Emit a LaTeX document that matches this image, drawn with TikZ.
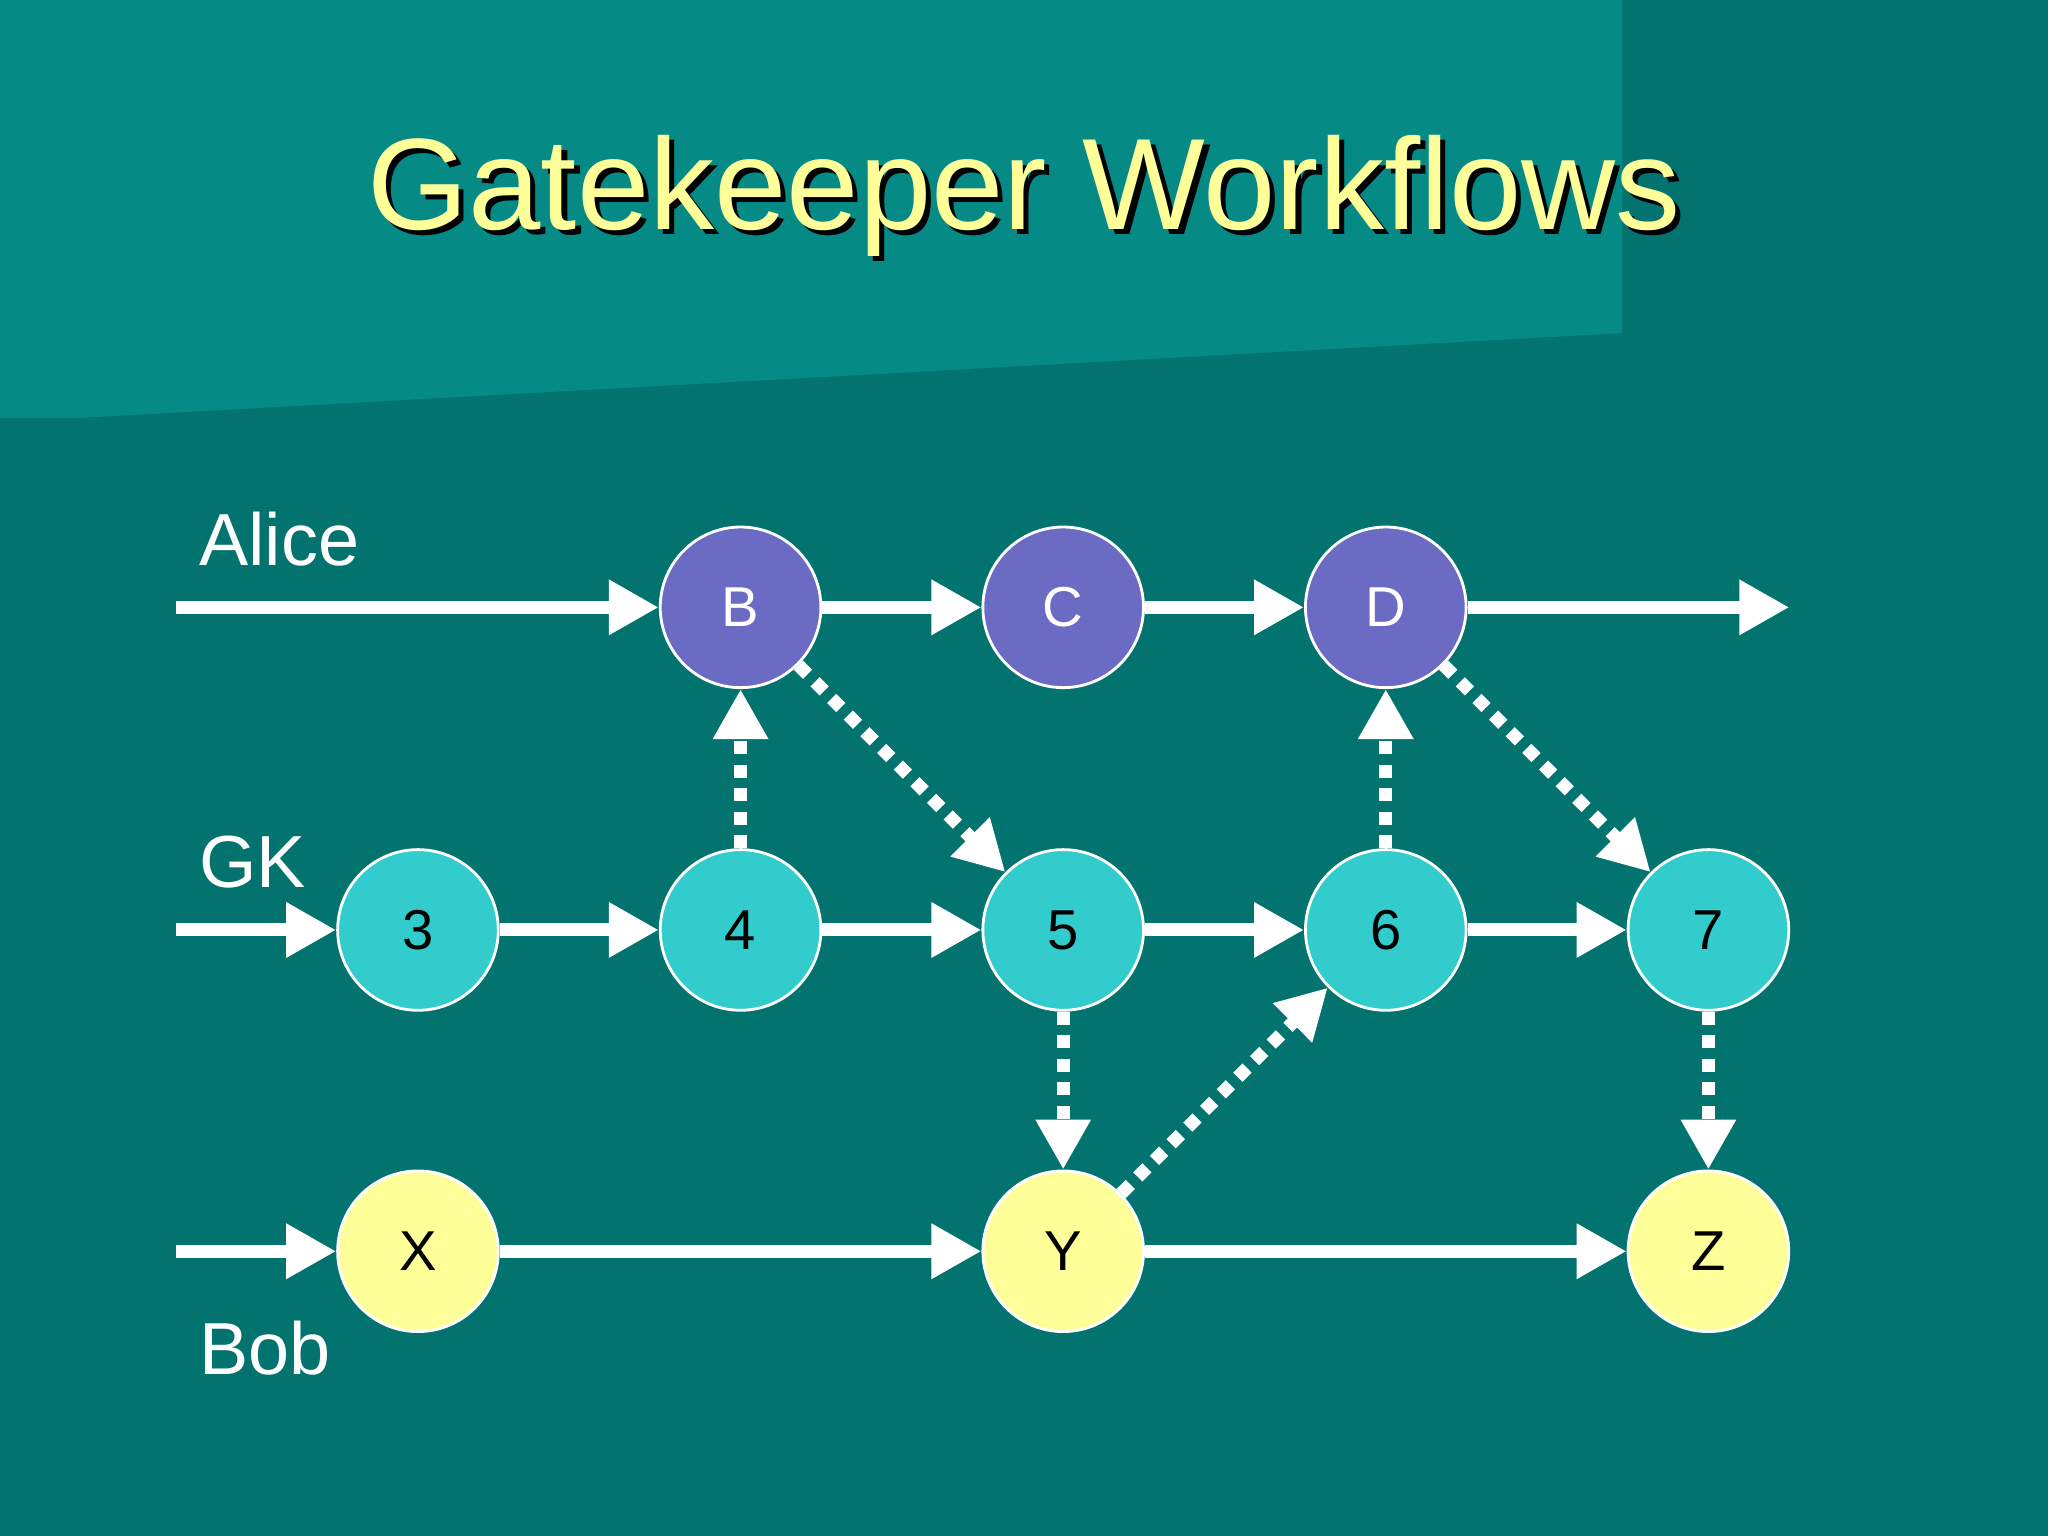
\documentclass[tikz,border=0pt]{standalone}
\usepackage{fontspec}
\setmainfont{Liberation Sans}
\usetikzlibrary{arrows.meta}
\definecolor{bg}{HTML}{037370}
\definecolor{bgl}{HTML}{058A85}
\definecolor{pur}{HTML}{6B6BC4}
\definecolor{cya}{HTML}{33CCCC}
\definecolor{yel}{HTML}{FFFF99}
\begin{document}
\begin{tikzpicture}[x=0.013061cm,y=-0.013061cm,
  nd/.style={circle,draw=white,line width=0.8pt,minimum size=123*0.013061cm,inner sep=0pt,font=\fontsize{16}{16}\selectfont},
  pn/.style={nd,fill=pur,text=white},
  cn/.style={nd,fill=cya,text=black},
  yn/.style={nd,fill=yel,text=black},
  ar/.style={white,line width=3.7pt,-{Triangle[length=0.5cm,width=0.52cm]}},
  da/.style={ar,dash pattern=on 3.7pt off 3pt},
  lb/.style={white,anchor=west,font=\fontsize{21}{21}\selectfont}]
\fill[bg] (0,0) rectangle (1568,1176);
\fill[bgl] (0,0) -- (1242,0) -- (1242,255) -- (60,320) -- (0,320) -- cycle;
\node[font=\fontsize{37}{37}\selectfont,text=black] at (788,154) {Gatekeeper Workflows};
\node[font=\fontsize{37}{37}\selectfont,text=yel] (title) at (784,150) {Gatekeeper Workflows};
\node[lb] (alice) at (143,413) {Alice};
\node[lb] (gk) at (143,660) {GK};
\node[lb] (bob) at (143,1032) {Bob};
\node[pn] (B) at (567,465) {B};
\node[pn] (C) at (814,465) {C};
\node[pn] (D) at (1061,465) {D};
\node[cn] (n3) at (320,712) {3};
\node[cn] (n4) at (567,712) {4};
\node[cn] (n5) at (814,712) {5};
\node[cn] (n6) at (1061,712) {6};
\node[cn] (n7) at (1308,712) {7};
\node[yn] (X) at (320,958) {X};
\node[yn] (Y) at (814,958) {Y};
\node[yn] (Z) at (1308,958) {Z};
\coordinate (a0) at (135,465);
\coordinate (a1) at (1370,465);
\coordinate (g0) at (135,712);
\coordinate (b0) at (135,958);
\draw[ar] (a0) -- (B);
\draw[ar] (B) -- (C);
\draw[ar] (C) -- (D);
\draw[ar] (D) -- (a1);
\draw[ar] (g0) -- (n3);
\draw[ar] (n3) -- (n4);
\draw[ar] (n4) -- (n5);
\draw[ar] (n5) -- (n6);
\draw[ar] (n6) -- (n7);
\draw[ar] (b0) -- (X);
\draw[ar] (X) -- (Y);
\draw[ar] (Y) -- (Z);
\draw[da] (n4) -- (B);
\draw[da] (n6) -- (D);
\draw[da] (B) -- (n5);
\draw[da] (D) -- (n7);
\draw[da] (n5) -- (Y);
\draw[da] (n7) -- (Z);
\draw[da] (Y) -- (n6);
\end{tikzpicture}
\end{document}
